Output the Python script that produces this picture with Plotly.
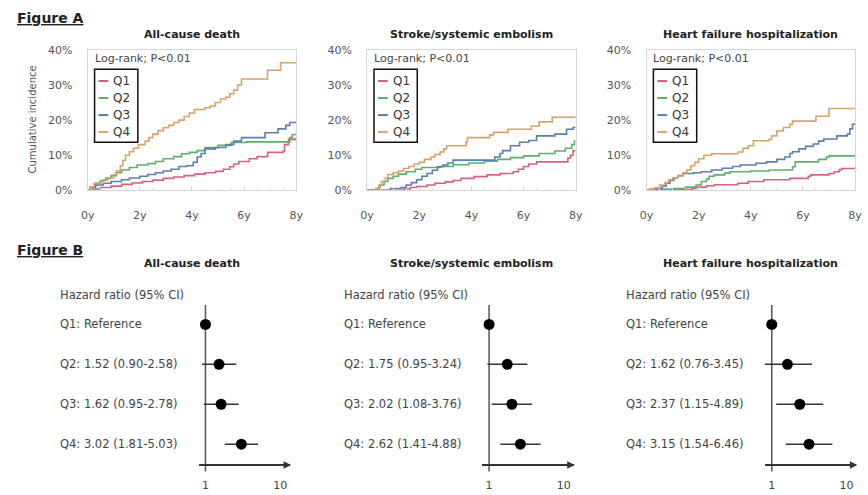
import plotly.graph_objects as go

W, H = 868, 495
FONT = "DejaVu Sans"

# ---------------- DATA ----------------
series_names = ["Q1", "Q2", "Q3", "Q4"]
series_colors = ["#d9607f", "#5fae6e", "#5b7fae", "#d8a26b"]
panel_titles = ["All-cause death", "Stroke/systemic embolism", "Heart failure hospitalization"]
logrank_text = "Log-rank; P<0.01"
x_ticks_years = [0, 2, 4, 6, 8]
y_ticks_pct = [0, 0.1, 0.2, 0.3, 0.4]

# All-cause death (time in years, cumulative incidence in %)
acd_q1_t = [0, 0.2, 0.5, 0.9, 1.3, 1.7, 2.1, 2.5, 2.9, 3.3, 3.7, 4.1, 4.5, 4.9, 5.2, 5.45, 5.6, 5.8, 6.2, 6.5, 6.9, 7.5, 7.55, 7.7, 8.0]
acd_q1_v = [0, 0.4, 0.8, 1.2, 1.7, 2.1, 2.5, 2.9, 3.4, 3.8, 4.2, 4.6, 5.0, 5.4, 6.0, 6.7, 7.5, 8.2, 9.0, 9.6, 10.8, 11.2, 13.0, 14.5, 15.0]
acd_q2_t = [0, 0.1, 0.3, 0.5, 0.7, 0.9, 1.1, 1.3, 1.6, 1.9, 2.3, 2.6, 2.9, 3.3, 3.6, 3.9, 4.2, 4.5, 5.0, 5.5, 6.1, 7.75, 7.85, 8.0]
acd_q2_v = [0, 1.0, 2.0, 2.8, 3.5, 4.2, 5.0, 5.8, 6.5, 7.2, 7.6, 8.2, 9.0, 9.6, 10.4, 10.8, 11.3, 12.2, 12.8, 13.6, 13.8, 15.0, 15.9, 15.9]
acd_q3_t = [0, 0.1, 0.3, 0.6, 0.9, 1.3, 1.6, 2.0, 2.3, 2.6, 2.9, 3.2, 3.5, 3.8, 4.05, 4.2, 4.35, 4.5, 4.9, 5.3, 5.6, 5.9, 6.8, 7.3, 7.6, 7.75, 8.0]
acd_q3_v = [0, 0.8, 1.5, 2.0, 2.5, 3.0, 3.5, 4.0, 4.5, 5.0, 5.5, 6.0, 6.8, 7.0, 8.0, 9.5, 10.5, 11.8, 12.2, 13.0, 14.0, 15.0, 16.4, 17.5, 18.5, 19.3, 19.3]
acd_q4_t = [0, 0.1, 0.25, 0.45, 0.6, 0.8, 1.0, 1.1, 1.25, 1.35, 1.45, 1.6, 1.75, 1.95, 2.2, 2.35, 2.5, 2.7, 2.9, 3.1, 3.3, 3.5, 3.7, 3.9, 4.1, 4.5, 4.7, 4.9, 5.1, 5.3, 5.45, 5.6, 5.75, 5.9, 6.9, 7.4, 8.0]
acd_q4_v = [0, 1.0, 2.0, 2.5, 3.0, 3.5, 4.5, 5.5, 7.0, 8.5, 10.0, 11.0, 12.0, 13.0, 14.0, 15.0, 16.0, 17.0, 17.8, 18.5, 19.3, 20.0, 21.0, 22.0, 23.0, 23.5, 24.0, 25.0, 26.0, 26.5, 27.5, 28.5, 30.0, 31.7, 34.2, 36.3, 36.3]

# Stroke/systemic embolism
sse_q1_t = [0, 1.4, 1.65, 1.9, 2.3, 2.6, 3.0, 3.3, 3.6, 4.1, 4.6, 5.1, 5.6, 5.8, 6.0, 6.2, 6.5, 7.7, 7.8, 7.9, 8.0]
sse_q1_v = [0, 0.4, 0.8, 1.1, 1.5, 2.0, 2.4, 2.8, 3.4, 3.9, 4.4, 4.8, 5.3, 6.0, 6.8, 7.5, 8.1, 9.2, 10.0, 11.3, 11.3]
sse_q2_t = [0, 0.35, 0.5, 0.65, 0.8, 1.0, 1.2, 1.5, 1.85, 2.1, 2.8, 3.3, 3.9, 4.5, 5.0, 5.5, 6.0, 6.6, 7.2, 7.6, 7.85, 7.95, 8.0]
sse_q2_v = [0, 0.5, 1.5, 2.5, 3.4, 4.0, 4.6, 5.3, 6.0, 6.5, 6.8, 7.3, 7.8, 8.3, 8.8, 9.3, 9.8, 10.5, 11.2, 12.0, 13.0, 14.0, 14.0]
sse_q3_t = [0, 0.9, 1.3, 1.5, 1.7, 1.9, 2.1, 2.3, 2.5, 2.7, 2.9, 3.1, 3.3, 4.9, 5.1, 5.2, 5.5, 5.85, 6.2, 6.5, 7.2, 7.65, 7.9, 8.0]
sse_q3_v = [0, 0.5, 0.8, 1.5, 2.2, 3.0, 4.0, 4.8, 5.7, 6.7, 7.2, 7.8, 8.6, 9.5, 10.5, 11.3, 12.7, 13.7, 14.2, 15.5, 16.0, 17.4, 17.9, 17.9]
sse_q4_t = [0, 0.35, 0.45, 0.55, 0.7, 0.8, 1.0, 1.2, 1.4, 1.6, 1.8, 2.0, 2.2, 2.45, 2.6, 2.8, 2.95, 3.05, 3.8, 3.85, 4.7, 4.85, 5.4, 6.3, 6.6, 7.1, 8.0]
sse_q4_v = [0, 0.5, 1.5, 2.5, 3.5, 4.5, 5.0, 5.5, 6.2, 6.8, 7.5, 8.0, 8.8, 9.5, 10.2, 10.9, 11.8, 12.7, 13.8, 15.0, 15.8, 16.5, 17.4, 18.3, 19.5, 20.8, 20.8]

# Heart failure hospitalization
hfh_q1_t = [0, 0.3, 1.75, 1.9, 2.3, 2.6, 3.5, 3.9, 4.5, 5.5, 6.2, 6.3, 7.0, 7.2, 7.4, 7.5, 8.0]
hfh_q1_v = [0, 0.2, 0.5, 0.9, 1.3, 1.6, 2.0, 2.5, 3.0, 3.4, 4.0, 4.4, 4.8, 5.3, 5.9, 6.2, 6.2]
hfh_q2_t = [0, 0.6, 1.0, 1.5, 1.9, 2.1, 2.3, 2.4, 2.6, 3.0, 3.2, 4.0, 4.7, 5.6, 5.7, 6.6, 6.9, 7.0, 8.0]
hfh_q2_v = [0, 0.3, 0.5, 0.9, 1.5, 2.5, 3.2, 4.0, 4.4, 4.9, 5.3, 5.5, 5.8, 6.7, 8.1, 8.8, 9.5, 9.8, 9.8]
hfh_q3_t = [0, 0.2, 0.4, 0.6, 0.75, 0.9, 1.05, 1.2, 1.4, 1.8, 2.1, 2.5, 2.9, 3.3, 3.6, 4.2, 4.6, 5.0, 5.3, 5.5, 5.6, 5.85, 6.1, 6.4, 6.6, 6.8, 7.3, 7.7, 7.8, 7.9, 8.0]
hfh_q3_v = [0, 0.3, 0.6, 1.2, 2.0, 2.8, 3.5, 4.2, 4.8, 5.0, 5.3, 5.8, 6.3, 6.8, 7.2, 7.7, 8.1, 8.8, 9.5, 10.5, 11.0, 11.8, 12.5, 13.2, 14.0, 14.6, 15.5, 16.0, 17.5, 18.8, 18.8]
hfh_q4_t = [0, 0.1, 0.3, 0.5, 0.7, 0.85, 1.0, 1.2, 1.4, 1.55, 1.7, 1.85, 2.0, 2.2, 2.5, 3.5, 3.7, 3.9, 4.1, 4.7, 4.8, 5.0, 5.25, 5.5, 5.6, 6.5, 7.0, 8.0]
hfh_q4_v = [0, 0.4, 0.7, 1.5, 2.2, 3.0, 3.6, 4.2, 5.0, 5.8, 7.0, 8.0, 9.0, 10.0, 10.4, 10.9, 12.0, 12.7, 14.1, 14.5, 15.5, 16.9, 17.9, 18.8, 19.7, 21.1, 23.3, 23.3]

# Hazard ratios (95% CI), Q1 = reference
acd_hr = [1.0, 1.52, 1.62, 3.02]
acd_lo = [1.0, 0.90, 0.95, 1.81]
acd_hi = [1.0, 2.58, 2.78, 5.03]
sse_hr = [1.0, 1.75, 2.02, 2.62]
sse_lo = [1.0, 0.95, 1.08, 1.41]
sse_hi = [1.0, 3.24, 3.76, 4.88]
hfh_hr = [1.0, 1.62, 2.37, 3.15]
hfh_lo = [1.0, 0.76, 1.15, 1.54]
hfh_hi = [1.0, 3.45, 4.89, 6.46]
forest_header = "Hazard ratio (95% CI)"
forest_ticks = [1, 10]

km_panels = [
    [(acd_q1_t, acd_q1_v), (acd_q2_t, acd_q2_v), (acd_q3_t, acd_q3_v), (acd_q4_t, acd_q4_v)],
    [(sse_q1_t, sse_q1_v), (sse_q2_t, sse_q2_v), (sse_q3_t, sse_q3_v), (sse_q4_t, sse_q4_v)],
    [(hfh_q1_t, hfh_q1_v), (hfh_q2_t, hfh_q2_v), (hfh_q3_t, hfh_q3_v), (hfh_q4_t, hfh_q4_v)],
]
forest_panels = [(acd_hr, acd_lo, acd_hi), (sse_hr, sse_lo, sse_hi), (hfh_hr, hfh_lo, hfh_hi)]


# ---------------- LAYOUT HELPERS (window pixels -> paper fractions) ----------------
def fx(px):
    return min(max(px / W, 0.0), 1.0)


def fy(py):
    return min(max(1 - py / H, 0.0), 1.0)


fig = go.Figure()
layout = dict(
    width=W, height=H, margin=dict(l=0, r=0, t=0, b=0),
    paper_bgcolor="white", plot_bgcolor="white", showlegend=False,
    font=dict(family=FONT, color="#444"),
)
annotations = []
shapes = []

# ---------------- FIGURE A: cumulative incidence ----------------
km_left = [82, 366, 650]
km_width = 212
km_top, km_bottom = 45, 189.3

for p in range(3):
    ax = p + 1
    xa = "x" if ax == 1 else f"x{ax}"
    ya = "y" if ax == 1 else f"y{ax}"
    for s in range(4):
        t, v = km_panels[p][s]
        fig.add_trace(go.Scatter(
            x=t, y=[val / 100 for val in v], mode="lines", line_shape="hv",
            line=dict(color=series_colors[s], width=1.6),
            xaxis=xa, yaxis=ya, hoverinfo="skip",
        ))
    layout[f"xaxis{ax}"] = dict(
        domain=[fx(km_left[p]), fx(km_left[p] + km_width)], anchor=ya,
        range=[0, 8], tickvals=x_ticks_years, ticktext=[f"{t}y" for t in x_ticks_years],
        showline=True, mirror=True, linecolor="#d6d6d6", linewidth=1,
        ticks="inside", ticklen=3, tickcolor="#cfcfcf",
        minor=dict(dtick=0.5, ticks="inside", ticklen=2, tickcolor="#dddddd"),
        showgrid=False, zeroline=False, ticklabelstandoff=14,
        tickfont=dict(size=11, color="#555", family=FONT),
    )
    layout[f"yaxis{ax}"] = dict(
        domain=[fy(km_bottom), fy(km_top)], anchor=xa,
        range=[0, 0.4], tickvals=y_ticks_pct, tickformat=".0%",
        showline=True, mirror=True, linecolor="#d6d6d6", linewidth=1,
        ticks="", showgrid=False, zeroline=False, ticklabelstandoff=12,
        tickfont=dict(size=11, color="#555", family=FONT),
    )
    # panel title
    annotations.append(dict(
        x=fx(km_left[p] + km_width / 2), y=fy(29), xref="paper", yref="paper",
        text=f"<b>{panel_titles[p]}</b>", showarrow=False,
        font=dict(size=11, color="#222", family=FONT), xanchor="center", yanchor="middle",
    ))
    # log-rank text
    annotations.append(dict(
        x=fx(km_left[p] + 5), y=fy(54), xref="paper", yref="paper",
        text=logrank_text, showarrow=False, xanchor="left", yanchor="middle",
        font=dict(size=11, color="#444", family=FONT),
    ))
    # legend box
    bx0 = km_left[p] + 7
    shapes.append(dict(
        type="rect", xref="paper", yref="paper",
        x0=fx(bx0), x1=fx(bx0 + 44), y0=fy(140), y1=fy(65),
        line=dict(color="#111", width=1.5), fillcolor="rgba(0,0,0,0)",
    ))
    for s in range(4):
        ry = 77 + 17.5 * s
        shapes.append(dict(
            type="line", xref="paper", yref="paper",
            x0=fx(bx0 + 4), x1=fx(bx0 + 14), y0=fy(ry), y1=fy(ry),
            line=dict(color=series_colors[s], width=2),
        ))
        annotations.append(dict(
            x=fx(bx0 + 17), y=fy(ry), xref="paper", yref="paper",
            text=series_names[s], showarrow=False, xanchor="left", yanchor="middle",
            font=dict(size=12, color="#333", family=FONT),
        ))

annotations.append(dict(
    x=fx(26), y=fy(117), xref="paper", yref="paper", text="Cumulative incidence",
    textangle=-90, showarrow=False, xanchor="center", yanchor="middle",
    font=dict(size=10, color="#555", family=FONT),
))

# Figure labels
for label, ypx in [("Figure A", 12), ("Figure B", 251)]:
    annotations.append(dict(
        x=fx(8), y=fy(ypx), xref="paper", yref="paper",
        text=f"<b><u>{label}</u></b>", showarrow=False, xanchor="left", yanchor="middle",
        font=dict(size=14, color="#222", family=FONT),
    ))

# ---------------- FIGURE B: forest plots ----------------
ref_px = [201.7, 490, 777.3]
text_left = [52, 340, 627]
decade = 76
row0, row_step = 327, 41
axis_py = 471.5
f_top, f_bottom = 300, H
y_range = [(f_bottom - row0) / row_step, (f_top - row0) / row_step]

for p in range(3):
    ax = p + 4
    xa, ya = f"x{ax}", f"y{ax}"
    hr, lo, hi = forest_panels[p]
    x0px = ref_px[p] - 7
    x1px = min(ref_px[p] + 86, W - 2)
    # reference line at HR = 1
    fig.add_trace(go.Scatter(
        x=[1, 1], y=[(307 - row0) / row_step, (478 - row0) / row_step], mode="lines",
        line=dict(color="#555", width=1.5), xaxis=xa, yaxis=ya, hoverinfo="skip",
    ))
    fig.add_trace(go.Scatter(
        x=hr, y=list(range(len(hr))), mode="markers",
        marker=dict(color="black", size=11, symbol="circle"),
        error_x=dict(type="data", symmetric=False,
                     array=[h - m for h, m in zip(hi, hr)],
                     arrayminus=[m - l for m, l in zip(hr, lo)],
                     color="#333", thickness=1.5, width=0),
        xaxis=xa, yaxis=ya, hoverinfo="skip",
    ))
    layout[f"xaxis{ax}"] = dict(
        domain=[fx(x0px), fx(x1px)], anchor="free", position=fy(axis_py),
        type="log", range=[(x0px - ref_px[p]) / decade, (x1px - ref_px[p]) / decade],
        tickvals=forest_ticks, ticktext=[str(t) for t in forest_ticks],
        showline=True, linecolor="#333", linewidth=1.5, ticks="",
        showgrid=False, zeroline=False, ticklabelstandoff=10,
        tickfont=dict(size=11, color="#444", family=FONT),
    )
    layout[f"yaxis{ax}"] = dict(
        domain=[fy(f_bottom), fy(f_top)], anchor=xa, range=y_range,
        visible=False, showgrid=False, zeroline=False,
    )
    # arrowhead on x axis
    annotations.append(dict(
        x=fx(x1px + 1), y=fy(axis_py), xref="paper", yref="paper",
        ax=-9, ay=0, text="", showarrow=True, arrowhead=2, arrowsize=1,
        arrowwidth=1.5, arrowcolor="#333", standoff=0,
    ))
    # header and row labels
    annotations.append(dict(
        x=fx(text_left[p]), y=fy(297), xref="paper", yref="paper", text=forest_header,
        showarrow=False, xanchor="left", yanchor="middle",
        font=dict(size=11.5, color="#444", family=FONT),
    ))
    for i in range(len(hr)):
        if i == 0:
            lab = f"{series_names[i]}: Reference"
        else:
            lab = f"{series_names[i]}: {hr[i]:.2f} ({lo[i]:.2f}-{hi[i]:.2f})"
        annotations.append(dict(
            x=fx(text_left[p]), y=i, xref="paper", yref=ya, text=lab,
            showarrow=False, xanchor="left", yanchor="middle",
            font=dict(size=11.5, color="#444", family=FONT),
        ))
    annotations.append(dict(
        x=fx(km_left[p] + km_width / 2), y=fy(264), xref="paper", yref="paper",
        text=f"<b>{panel_titles[p]}</b>", showarrow=False, xanchor="center", yanchor="middle",
        font=dict(size=11, color="#222", family=FONT),
    ))

layout["annotations"] = annotations
layout["shapes"] = shapes
fig.update_layout(**layout)
fig.write_html(
    "out.html",
    config={"displayModeBar": False},
    post_script="document.body.style.margin='0px';document.body.style.overflow='hidden';",
)
